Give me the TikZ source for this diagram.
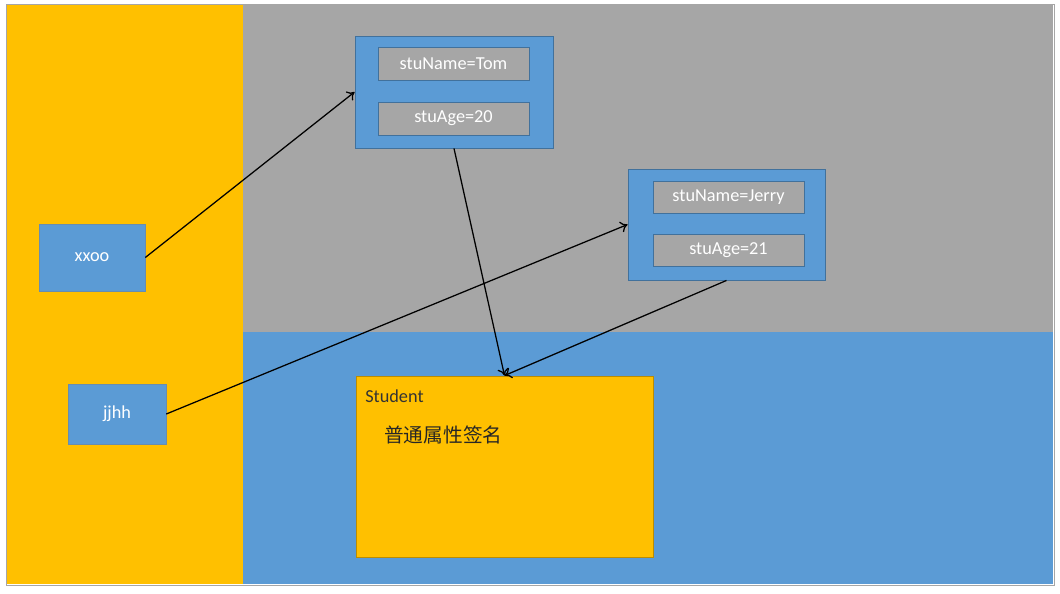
\documentclass[tikz,border=0pt]{standalone}
\usepackage{fontspec}
\setmainfont{Carlito}
\newfontfamily\cjk{Noto Sans CJK SC}
\usetikzlibrary{calc,arrows.meta}

\definecolor{panelyellow}{HTML}{FFC000}
\definecolor{panelgray}{HTML}{A6A6A6}
\definecolor{panelblue}{HTML}{5B9BD5}
\definecolor{edgeblue}{HTML}{41719C}
\definecolor{edgeyellow}{HTML}{BC8C00}

\begin{document}
\begin{tikzpicture}[x=0.025cm, y=-0.025cm,
    every node/.style={inner sep=0pt, font=\fontsize{13}{15}\selectfont},
    obj/.style={draw=edgeblue, fill=panelblue, line width=.6pt},
    field/.style={draw=edgeblue, fill=panelgray, text=white, line width=.6pt, minimum width=3.775cm},
    ref/.style={draw=edgeblue!80, fill=panelblue, text=white, line width=.4pt}]
    \useasboundingbox (0,0) rectangle (1060,593);
    % background panels
    \fill[panelyellow] (7,5) rectangle (243,584);
    \fill[panelgray] (243,5) rectangle (1053,332);
    \fill[panelblue] (243,332) rectangle (1053,584);
    \draw[gray!70, line width=.6pt] (6,4) rectangle (1054,585);
    \draw (92,257.5) node[ref, minimum width=2.65cm, minimum height=1.675cm] (xxoo) {xxoo};
    \draw (117,414) node[ref, minimum width=2.45cm, minimum height=1.5cm] (jjhh) {jjhh};
    \draw (454,92) node[obj, minimum width=4.95cm, minimum height=2.8cm] (tom) {};
    \draw (453.5,63.5) node[field, minimum height=.825cm] (tomname) {stuName=Tom};
    \draw (453.5,118.5) node[field, minimum height=.825cm] (tomage) {stuAge=20};
    \draw (726.5,224.5) node[obj, minimum width=4.925cm, minimum height=2.775cm] (jerry) {};
    \draw (728.5,197) node[field, minimum height=.8cm] (jerryname) {stuName=Jerry};
    \draw (728.5,250.5) node[field, minimum height=.8cm] (jerryage) {stuAge=21};
    \draw (504.5,466.5) node[draw=edgeyellow, fill=panelyellow, line width=.6pt, minimum width=7.425cm, minimum height=4.525cm] (student) {};
    \draw (365,396) node[anchor=west, text=black!80] (cls) {Student};
    \draw (384,435) node[anchor=west, text=black!85, font=\fontsize{14}{16}\selectfont\cjk] (sig) {普通属性签名};
    \draw [-{To[length=5pt,width=8pt]}, line width=.9pt] (xxoo.east) -- (tom.west);
    \draw [-{To[length=5pt,width=8pt]}, line width=.9pt] (jjhh.east) -- (jerry.west);
    \draw [-{To[length=5pt,width=8pt]}, line width=.9pt] (tom.south) -- (student.north);
    \draw [-{To[length=5pt,width=8pt]}, line width=.9pt] (jerry.south) -- (student.north);
\end{tikzpicture}
\end{document}
